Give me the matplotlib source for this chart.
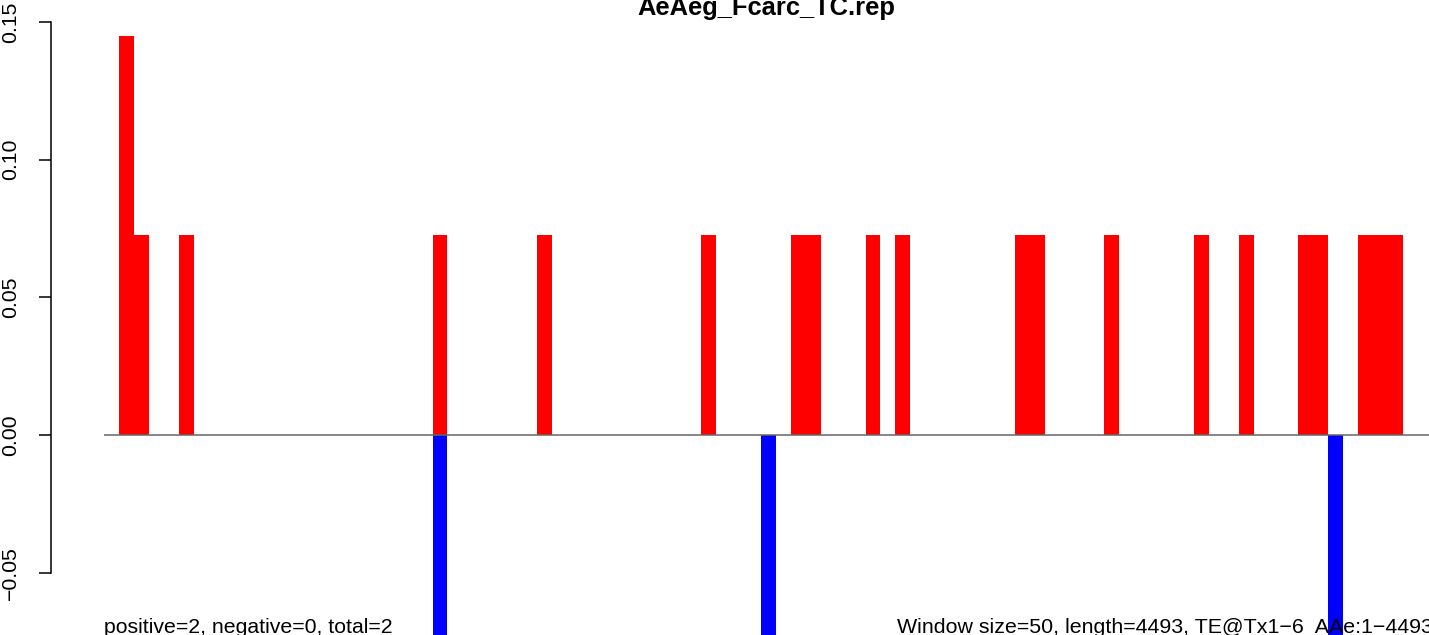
import matplotlib
matplotlib.use("Agg")
import matplotlib.pyplot as plt
from matplotlib.ticker import FixedLocator

plt.rcParams['font.family'] = ['Liberation Sans', 'DejaVu Sans']

# ---- data ----
title = "AeAeg_Fcarc_TC.rep"
n_windows = 90  # length 4493 / window 50
pos_windows = [0, 1, 4, 21, 28, 39, 45, 46, 50, 52, 60, 61, 66, 72, 75, 79, 80, 83, 84, 85]
pos_values = [0.145, 0.0725, 0.0725, 0.0725, 0.0725, 0.0725, 0.0725, 0.0725, 0.0725, 0.0725,
              0.0725, 0.0725, 0.0725, 0.0725, 0.0725, 0.0725, 0.0725, 0.0725, 0.0725, 0.0725]
neg_windows = [21, 43, 81]
neg_values = [-0.0725, -0.0725, -0.0725]
yticks = [-0.05, 0.00, 0.05, 0.10, 0.15]
ytick_labels = ["\u22120.05", "0.00", "0.05", "0.10", "0.15"]
left_note = "positive=2, negative=0, total=2"
right_note = "Window size=50, length=4493, TE@Tx1\u22126  AAe:1\u22124493"

W, H = 1429, 635
fig = plt.figure(figsize=(W / 100, H / 100), dpi=100)
ax = fig.add_axes([0, 0, 1, 1])

bw = 14.93          # pixels per window
x0 = 119.0          # pixel of first window
px_per_unit = 137.7 / 0.05
y0 = 435.0
ax.set_xlim(-x0 / bw, (W - x0) / bw)
ax.set_ylim(-(H - y0) / px_per_unit, y0 / px_per_unit)

ax.bar(pos_windows, pos_values, width=1.0, align='edge', color='#FF0000', linewidth=0, zorder=2)
ax.bar(neg_windows, neg_values, width=1.0, align='edge', color='#0000FF', linewidth=0, zorder=2)
ax.plot([-1, n_windows], [0, 0], color='#666666', linewidth=1.1, zorder=3, solid_capstyle='butt')

for s in ['top', 'right', 'bottom']:
    ax.spines[s].set_visible(False)
ax.spines['left'].set_position(('data', (51 - x0) / bw))
ax.spines['left'].set_bounds(-0.05, 0.15)
ax.spines['left'].set_linewidth(1.1)
ax.set_xticks([])
ax.yaxis.set_major_locator(FixedLocator(yticks))
ax.set_yticklabels(ytick_labels, rotation=90, va='center', fontsize=15.3)
ax.tick_params(axis='y', length=9, width=1.1, pad=13, direction='out')
ax.patch.set_alpha(0)

fig.text(766 / W, (H - 15) / H, title, ha='center', va='baseline', fontsize=18.4, fontweight='bold')
fig.text(104 / W, (H - 633) / H, left_note, ha='left', va='baseline', fontsize=15.3)
fig.text(897 / W, (H - 633) / H, right_note, ha='left', va='baseline', fontsize=15.4)

fig.savefig("out.png", dpi=100)
